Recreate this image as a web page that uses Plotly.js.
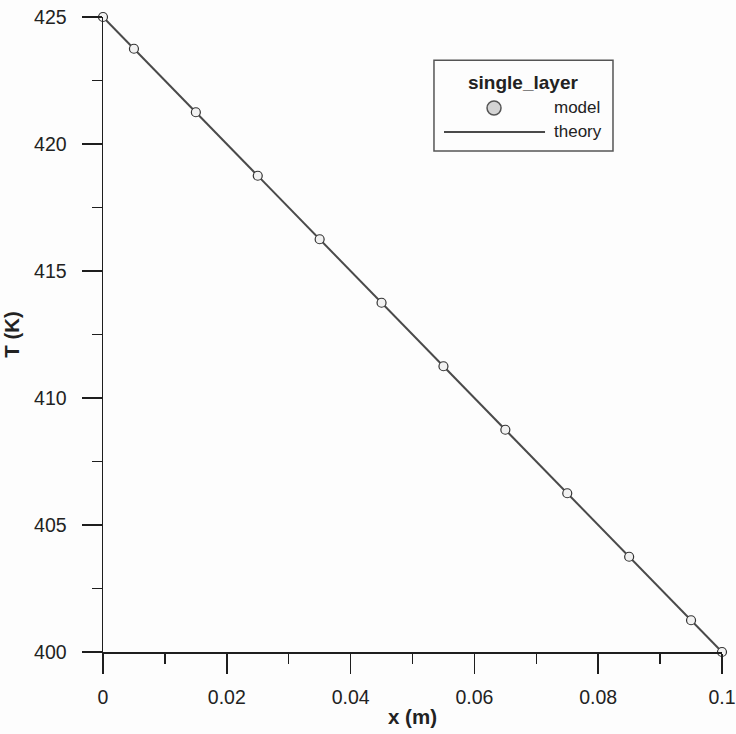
<!DOCTYPE html>
<html>
<head>
<meta charset="utf-8">
<script src="https://cdn.plot.ly/plotly-3.0.1.min.js"></script>
<style>
  html, body { margin: 0; padding: 0; background: #fdfdfd; }
  #chart { width: 736px; height: 734px; }
</style>
</head>
<body>
<div id="chart"></div>
<script>
// Temperature profile through a single layer wall
const modelX = [0, 0.005, 0.015, 0.025, 0.035, 0.045, 0.055, 0.065, 0.075, 0.085, 0.095, 0.1];
const modelT = [425, 423.75, 421.25, 418.75, 416.25, 413.75, 411.25, 408.75, 406.25, 403.75, 401.25, 400];
const theoryX = [0, 0.1];
const theoryT = [425, 400];
const xTickVals = [0, 0.02, 0.04, 0.06, 0.08, 0.1];
const xTickText = ['0', '0.02', '0.04', '0.06', '0.08', '0.1'];
const yTickVals = [400, 405, 410, 415, 420, 425];
const legendTitle = 'single_layer';
const seriesNames = ['model', 'theory'];

const FONT = 'Liberation Sans, Arial, sans-serif';
const AXIS = '#1e1e1e';

const traces = [
  {
    x: theoryX, y: theoryT, type: 'scatter', mode: 'lines', name: seriesNames[1],
    line: { color: '#4a4a4a', width: 2 }, showlegend: false, cliponaxis: false
  },
  {
    x: modelX, y: modelT, type: 'scatter', mode: 'markers', name: seriesNames[0],
    marker: { symbol: 'circle', size: 9, color: '#f2f2f2', line: { color: '#333', width: 1.2 } },
    showlegend: false, cliponaxis: false
  }
];

// Framed legend box drawn in paper coordinates
const shapes = [
  { type: 'rect', xref: 'paper', yref: 'paper', x0: 0.5347, x1: 0.8239, y0: 0.789, y1: 0.932,
    line: { color: '#555', width: 1.5 }, fillcolor: 'rgba(0,0,0,0)' },
  { type: 'circle', xref: 'paper', yref: 'paper', x0: 0.6204, x1: 0.6430, y0: 0.8457, y1: 0.8677,
    line: { color: '#555', width: 1.5 }, fillcolor: '#d4d4d4' },
  { type: 'line', xref: 'paper', yref: 'paper', x0: 0.5509, x1: 0.7141, y0: 0.8189, y1: 0.8189,
    line: { color: '#4a4a4a', width: 2 } }
];

const annotations = [
  { xref: 'paper', yref: 'paper', x: 0.6785, y: 0.8976, text: '<b>' + legendTitle + '</b>',
    showarrow: false, xanchor: 'center', yanchor: 'middle', font: { family: FONT, size: 19, color: '#222' } },
  { xref: 'paper', yref: 'paper', x: 0.725, y: 0.8567, text: seriesNames[0],
    showarrow: false, xanchor: 'left', yanchor: 'middle', font: { family: FONT, size: 17, color: '#222' } },
  { xref: 'paper', yref: 'paper', x: 0.725, y: 0.8189, text: seriesNames[1],
    showarrow: false, xanchor: 'left', yanchor: 'middle', font: { family: FONT, size: 17, color: '#222' } }
];

const layout = {
  width: 736, height: 734,
  margin: { l: 103, r: 14, t: 17, b: 82 },
  paper_bgcolor: '#fdfdfd', plot_bgcolor: '#fdfdfd',
  showlegend: false,
  font: { family: FONT, color: '#222' },
  xaxis: {
    range: [0, 0.1], tickvals: xTickVals, ticktext: xTickText,
    ticks: 'outside', ticklen: 20, tickwidth: 1.5, tickcolor: AXIS,
    showline: true, linecolor: AXIS, linewidth: 1.5,
    showgrid: false, zeroline: false, ticklabelstandoff: 7,
    tickfont: { family: FONT, size: 19.5, color: '#222' },
    minor: { dtick: 0.01, ticks: 'outside', ticklen: 10, tickwidth: 1.5, tickcolor: AXIS, showgrid: false },
    title: { text: '<b>x (m)</b>', font: { family: FONT, size: 20.5, color: '#222' }, standoff: 2 }
  },
  yaxis: {
    range: [400, 425], tickvals: yTickVals,
    ticks: 'outside', ticklen: 20, tickwidth: 1.5, tickcolor: AXIS,
    showline: true, linecolor: AXIS, linewidth: 1.5,
    showgrid: false, zeroline: false, ticklabelstandoff: 11,
    tickfont: { family: FONT, size: 19.5, color: '#222' },
    minor: { dtick: 2.5, ticks: 'outside', ticklen: 10, tickwidth: 1.5, tickcolor: AXIS, showgrid: false },
    title: { text: '<b>T (K)</b>', font: { family: FONT, size: 20.5, color: '#222' }, standoff: 10 }
  },
  shapes: shapes,
  annotations: annotations
};

Plotly.newPlot('chart', traces, layout, { displayModeBar: false, staticPlot: true });
</script>
</body>
</html>
